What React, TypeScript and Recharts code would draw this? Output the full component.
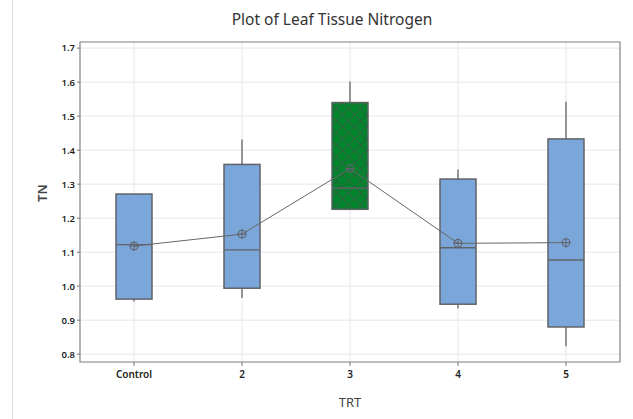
import { ComposedChart, Bar, Line, XAxis, YAxis, CartesianGrid, ReferenceArea } from 'recharts'

const categories = ['Control', '2', '3', '4', '5']
const minVals = [0.955, 0.965, 1.226, 0.934, 0.823]
const q1Vals = [0.962, 0.994, 1.226, 0.947, 0.88]
const medianVals = [1.122, 1.107, 1.288, 1.113, 1.077]
const q3Vals = [1.271, 1.358, 1.54, 1.315, 1.433]
const maxVals = [1.271, 1.431, 1.602, 1.343, 1.542]
const meanVals = [1.118, 1.153, 1.346, 1.126, 1.128]
const yTicks = [0.8, 0.9, 1.0, 1.1, 1.2, 1.3, 1.4, 1.5, 1.6, 1.7]

const highlighted = '3'
const yMin = 0.777
const yMax = 1.718

const data = categories.map((trt, i) => ({
  trt,
  range: [minVals[i], maxVals[i]],
  min: minVals[i],
  q1: q1Vals[i],
  median: medianVals[i],
  q3: q3Vals[i],
  max: maxVals[i],
  mean: meanVals[i],
}))

const edge = '#5f6368'
const boxBlue = '#7ba6da'
const boxGreen = '#02842c'
const font = '"Noto Sans", "Open Sans", sans-serif'

function BoxShape(props: any) {
  const { x, y, width, height, payload } = props
  const top = Math.min(y, y + height)
  const bottom = Math.max(y, y + height)
  const span = payload.max - payload.min
  const px = (v: number) => (span === 0 ? top : bottom - ((v - payload.min) / span) * (bottom - top))
  const cx = x + width / 2
  const yQ1 = px(payload.q1)
  const yQ3 = px(payload.q3)
  const yMed = px(payload.median)
  const isHi = payload.trt === highlighted
  return (
    <g>
      <line x1={cx} x2={cx} y1={top} y2={yQ3} stroke={edge} strokeWidth={1.3} />
      <line x1={cx} x2={cx} y1={yQ1} y2={bottom} stroke={edge} strokeWidth={1.3} />
      <rect x={x} y={yQ3} width={width} height={yQ1 - yQ3} fill={isHi ? boxGreen : boxBlue} stroke={edge} strokeWidth={1.5} />
      {isHi && <rect x={x} y={yQ3} width={width} height={yQ1 - yQ3} fill="url(#hatch)" />}
      <line x1={x} x2={x + width} y1={yMed} y2={yMed} stroke={edge} strokeWidth={1.3} />
    </g>
  )
}

function MeanDot(props: any) {
  const { cx, cy } = props
  if (cx == null || cy == null) return null
  return (
    <g>
      <circle cx={cx} cy={cy} r={4} fill="none" stroke={edge} strokeWidth={1} />
      <line x1={cx - 5} x2={cx + 5} y1={cy} y2={cy} stroke={edge} strokeWidth={1} />
      <line x1={cx} x2={cx} y1={cy - 5} y2={cy + 5} stroke={edge} strokeWidth={1} />
    </g>
  )
}

export default function App() {
  return (
    <div style={{ position: 'absolute', left: 0, top: 0, width: 633, height: 419, background: '#fff', fontFamily: font }}>
      <div style={{ position: 'absolute', left: 12, top: 0, width: 1, height: 419, background: '#dcdcdc' }} />
      <div
        style={{
          position: 'absolute',
          left: 0,
          top: 8,
          width: 664,
          textAlign: 'center',
          fontSize: 15.5,
          color: '#333',
        }}
      >
        Plot of Leaf Tissue Nitrogen
      </div>
      <ComposedChart width={633} height={419} data={data} margin={{ top: 42, right: 13, bottom: 0, left: 30 }}>
        <defs>
          <pattern id="hatch" patternUnits="userSpaceOnUse" width={8.5} height={8.5} patternTransform="rotate(45)">
            <line x1={0} y1={0} x2={0} y2={8.5} stroke="#4a4a4a" strokeWidth={1.6} opacity={0.7} />
            <line x1={0} y1={0} x2={8.5} y2={0} stroke="#4a4a4a" strokeWidth={1.6} opacity={0.7} />
          </pattern>
        </defs>
        <CartesianGrid stroke="#e6e6e6" />
        <ReferenceArea y1={yMin} y2={yMax} fill="none" stroke="#8a8a8a" strokeWidth={1.2} ifOverflow="visible" />
        <XAxis
          dataKey="trt"
          type="category"
          axisLine={false}
          tickSize={4}
          tickMargin={5}
          tickLine={{ stroke: '#777' }}
          tick={{ fontSize: 10, fill: '#222', fontFamily: font, fontWeight: 600 }}
          label={{ value: 'TRT', position: 'insideBottom', offset: 12, fontSize: 13, fill: '#444', fontFamily: font }}
          height={57}
        />
        <YAxis
          type="number"
          domain={[yMin, yMax]}
          ticks={yTicks}
          allowDataOverflow
          axisLine={false}
          tickSize={3}
          tickMargin={2}
          tickLine={{ stroke: '#777' }}
          tickFormatter={(v: number) => v.toFixed(1)}
          tick={{ fontSize: 9.5, fill: '#222', fontFamily: font, fontWeight: 600 }}
          width={50}
          label={{ value: 'TN', angle: -90, position: 'insideLeft', offset: 12, fontSize: 13, fill: '#444', fontFamily: font, fontWeight: 600 }}
        />
        <Bar dataKey="range" barSize={36} shape={<BoxShape />} isAnimationActive={false} />
        <Line
          dataKey="mean"
          type="linear"
          stroke="#666"
          strokeWidth={1}
          dot={<MeanDot />}
          activeDot={false}
          isAnimationActive={false}
        />
      </ComposedChart>
    </div>
  )
}
